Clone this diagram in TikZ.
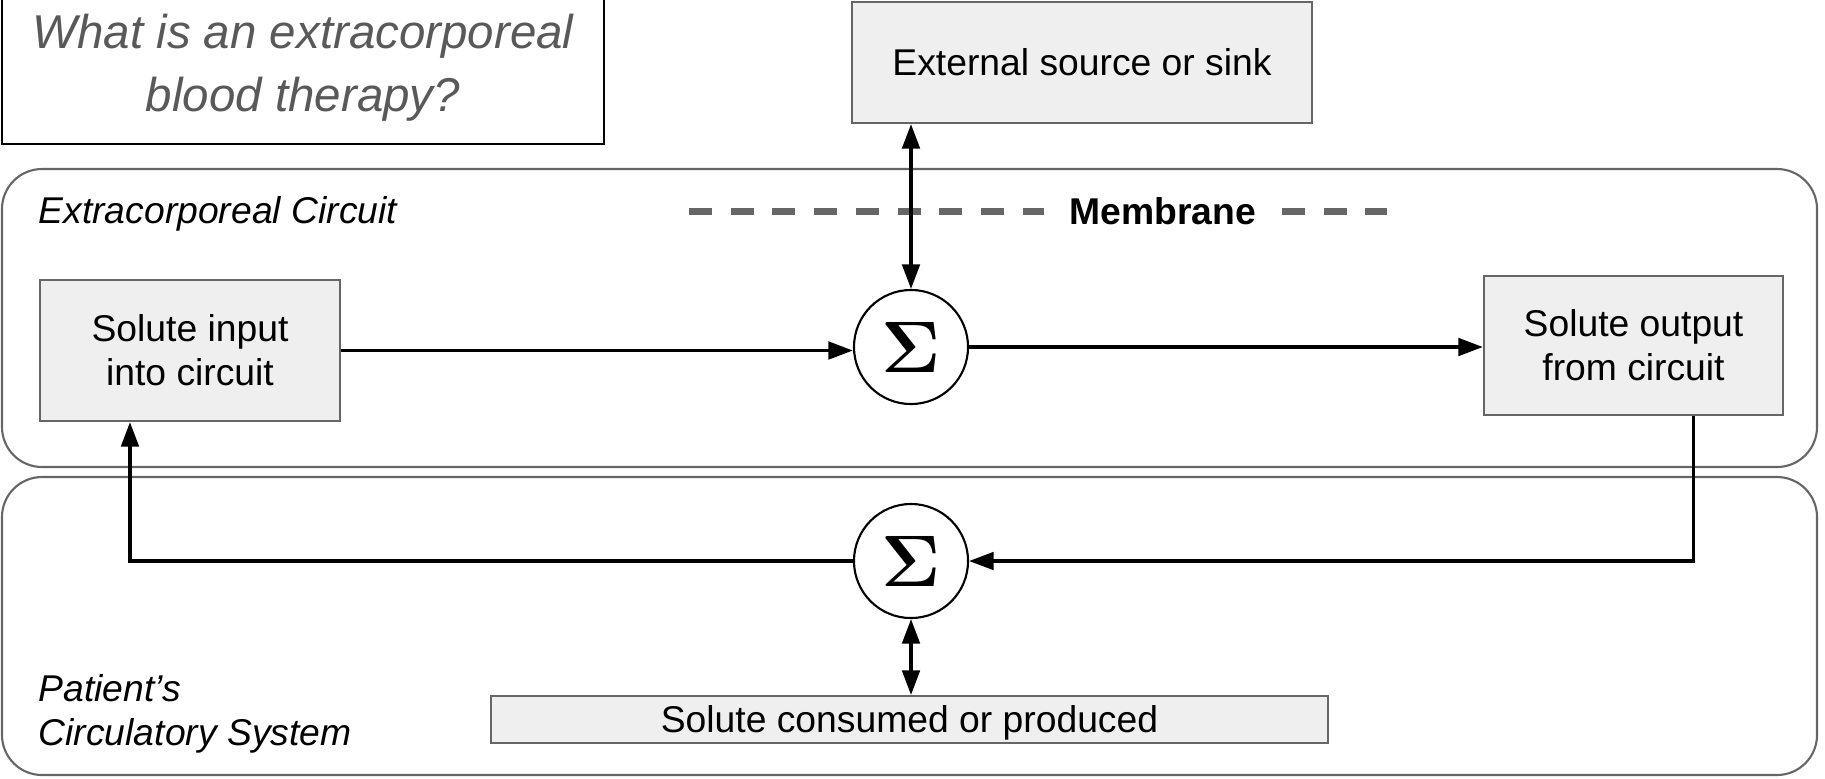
\documentclass[tikz,border=0pt]{standalone}
\usepackage{amsmath}
\usepackage[no-math]{fontspec}
\setmainfont{Liberation Sans}
\usetikzlibrary{arrows.meta}
\definecolor{boxfill}{HTML}{EFEFEF}
\definecolor{boxline}{HTML}{666666}
\definecolor{titlegray}{HTML}{595959}
\tikzstyle{block}=[draw=boxline, fill=boxfill, line width=0.6pt, align=center, inner sep=0pt]
\tikzstyle{oneline}=[block, text height=0.265cm, text depth=0pt]
\tikzstyle{sumnode}=[draw, circle, line width=0.6pt, minimum size=1.14cm, inner sep=0pt, font=\fontsize{21}{24}\selectfont]
\tikzstyle{region}=[draw=boxline, line width=0.6pt, rounded corners=0.4cm]
\tikzstyle{regionlabel}=[anchor=west, align=left, inner sep=0pt, font=\fontsize{10.6}{12.5}\selectfont\itshape]
\tikzstyle{flow}=[line width=0.95pt, -{Triangle[length=7pt,width=5pt]}]
\tikzstyle{bothways}=[line width=0.95pt, {Triangle[length=7pt,width=5pt]}-{Triangle[length=7pt,width=5pt]}]
\tikzstyle{membrane}=[draw=boxline, line width=0.07cm, dash pattern=on 0.23cm off 0.187cm]

\begin{document}
\begin{tikzpicture}[x=0.01cm, y=-0.01cm, font=\fontsize{10.6}{12.5}\selectfont]
        \useasboundingbox (0,0) rectangle (1825,778);
        % the two regions
        \draw[region] (2,169) rectangle (1817,467);
        \draw[region] (2,477) rectangle (1817,775);
        \node[regionlabel] (ecc) at (38,214) {Extracorporeal Circuit};
        \node[regionlabel] (pcs) at (38,714) {Patient’s\\Circulatory System};

        % title
        \node[draw, line width=0.6pt, minimum width=6.02cm, minimum height=1.52cm, align=center,
              text=titlegray, font=\fontsize{13.5}{17.8}\selectfont\itshape] (title) at (303,68)
              {What is an extracorporeal\\blood therapy?};

        % blocks
        \node[oneline, minimum width=4.60cm, minimum height=1.21cm] (ext) at (1082,62.5) {External source or sink};
        \node[block, minimum width=2.99cm, minimum height=1.41cm] (in) at (190,350.5) {Solute input\\into circuit};
        \node[block, minimum width=2.99cm, minimum height=1.39cm] (out) at (1633.5,345.5) {Solute output\\from circuit};
        \node[oneline, minimum width=8.37cm, minimum height=0.47cm] (cons) at (909.5,719.5) {Solute consumed or produced};
        \node[sumnode] (sig1) at (911,347) {$\mathbf{\Sigma}$};
        \node[sumnode] (sig2) at (911,561) {$\mathbf{\Sigma}$};

        % membrane
        \node[inner sep=0.25cm, font=\fontsize{10.6}{12.5}\selectfont\bfseries] (mem) at (1163,211) {Membrane};
        \coordinate (memL) at (689,211);
        \coordinate (memR) at (1387,211);
        \draw[membrane] (memL) -- (mem.west);
        \draw[membrane] (mem.east) -- (memR);

        % connectors
        \draw[flow] (in.east) -- (in.east -| sig1.west);
        \draw[flow] (sig1.east) -- (sig1.east -| out.west);
        \draw[flow] ([xshift=0.6cm]out.south) |- (sig2.east);
        \draw[flow] (sig2.west) -| ([xshift=-0.6cm]in.south);
        \draw[bothways] (sig1.north) -- (sig1.north |- ext.south);
        \draw[bothways] (sig2.south) -- (sig2.south |- cons.north);
    \end{tikzpicture}
\end{document}
